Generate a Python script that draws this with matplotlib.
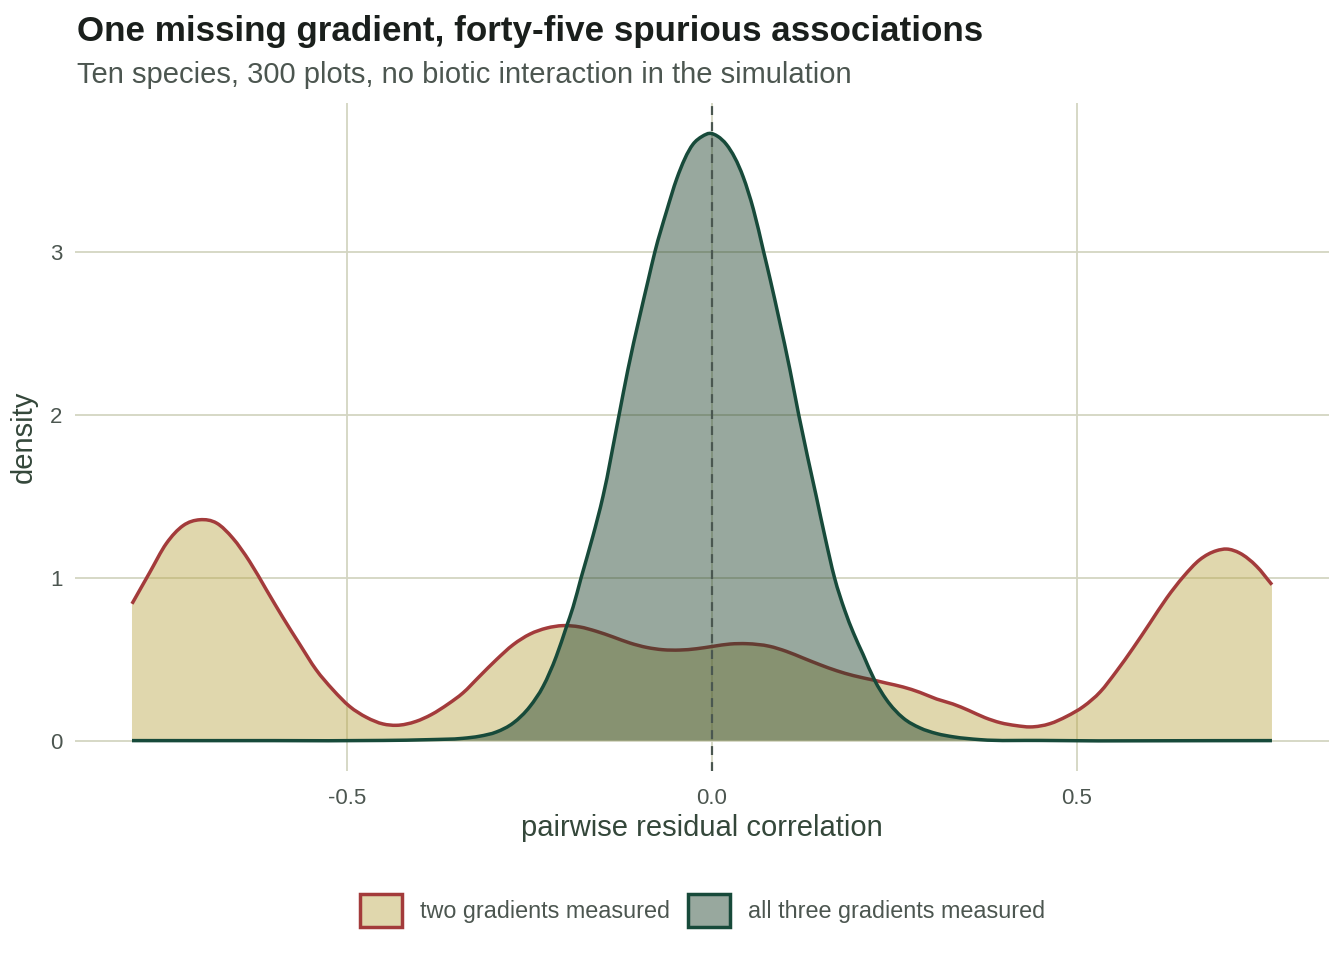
import matplotlib
matplotlib.use("Agg")
import matplotlib.pyplot as plt
import matplotlib.patches as mpatches
from matplotlib.path import Path
import numpy as np

# ── Style ─────────────────────────────────────────────────────────────────────
plt.rcParams.update({
    "font.family": ["Liberation Sans", "DejaVu Sans"],
    "axes.edgecolor": "none",
})

GRID = "#d3d5c2"
RED_LINE = "#a33b3b"
RED_FILL = "#bba749"
GREEN_LINE = "#174a3a"
GREEN_FILL = "#1b3e28"
TEXT_DARK = "#1a1f1c"
TEXT_MID = "#4c5650"
AXIS_TITLE = "#34473a"

# ── Data ────────────────────────────────────────────────────────────────────
two_x = [-0.794, -0.770, -0.747, -0.724, -0.701, -0.678, -0.656, -0.633, -0.610,
         -0.587, -0.564, -0.542, -0.519, -0.496, -0.473, -0.450, -0.432, -0.405,
         -0.384, -0.361, -0.341, -0.318, -0.295, -0.272, -0.249, -0.226, -0.204,
         -0.181, -0.158, -0.135, -0.112, -0.089, -0.067, -0.044, -0.021, 0.002,
         0.025, 0.048, 0.079, 0.102, 0.125, 0.148, 0.171, 0.194, 0.223, 0.239,
         0.262, 0.285, 0.308, 0.330, 0.352, 0.374, 0.395, 0.417, 0.436, 0.463,
         0.486, 0.509, 0.532, 0.554, 0.577, 0.600, 0.623, 0.646, 0.668, 0.691,
         0.705, 0.723, 0.746, 0.767]
two_y = [0.84, 1.03, 1.21, 1.32, 1.356, 1.335, 1.243, 1.10, 0.926,
         0.753, 0.589, 0.436, 0.313, 0.21, 0.143, 0.102, 0.094, 0.118,
         0.16, 0.225, 0.292, 0.395, 0.497, 0.589, 0.654, 0.691, 0.706,
         0.698, 0.671, 0.636, 0.599, 0.572, 0.558, 0.556, 0.564, 0.579,
         0.593, 0.595, 0.579, 0.548, 0.507, 0.466, 0.429, 0.399, 0.370, 0.353,
         0.329, 0.296, 0.255, 0.225, 0.185, 0.141, 0.11, 0.092, 0.084, 0.104,
         0.149, 0.21, 0.30, 0.425, 0.569, 0.722, 0.876, 1.008, 1.11, 1.166,
         1.176, 1.151, 1.07, 0.957]

three_x = [-0.794, -0.60, -0.45, -0.386, -0.341, -0.318, -0.295, -0.272, -0.249,
           -0.231, -0.213, -0.199, -0.190, -0.179, -0.163, -0.149, -0.127,
           -0.115, -0.099, -0.087, -0.078, -0.062, -0.048, -0.026, -0.013, -0.003,
           0.008, 0.020, 0.043, 0.057, 0.071, 0.080, 0.092, 0.107, 0.119,
           0.143, 0.155, 0.168, 0.182, 0.194, 0.207, 0.223, 0.239, 0.262, 0.285,
           0.308, 0.331, 0.367, 0.45, 0.767]
three_y = [0.0, 0.0, 0.001, 0.006, 0.014, 0.027, 0.053, 0.108, 0.21,
           0.333, 0.517, 0.70, 0.82, 1.0, 1.253, 1.50, 2.0,
           2.276, 2.60, 2.83, 3.0, 3.25, 3.45, 3.66, 3.71, 3.728,
           3.71, 3.66, 3.46, 3.26, 3.0, 2.83, 2.59, 2.276, 2.0,
           1.50, 1.25, 1.0, 0.80, 0.66, 0.53, 0.37, 0.252, 0.139, 0.078,
           0.043, 0.023, 0.006, 0.001, 0.0]

x_ticks = [-0.5, 0.0, 0.5]
x_labels = ["-0.5", "0.0", "0.5"]
y_ticks = [0, 1, 2, 3]
labels = ["two gradients measured", "all three gradients measured"]


def smooth_path(xs, ys, closed=False):
    """Bezier path through the read points (three-point tangents)."""
    x = np.asarray(xs, float)
    y = np.asarray(ys, float)
    h = np.diff(x)
    d = np.diff(y) / h
    m = np.zeros_like(y)
    m[0], m[-1] = d[0], d[-1]
    m[1:-1] = (h[1:] * d[:-1] + h[:-1] * d[1:]) / (h[:-1] + h[1:])
    if closed:
        verts = [(x[0], 0.0), (x[0], y[0])]
        codes = [Path.MOVETO, Path.LINETO]
    else:
        verts = [(x[0], y[0])]
        codes = [Path.MOVETO]
    for i in range(len(x) - 1):
        verts += [(x[i] + h[i] / 3, y[i] + m[i] * h[i] / 3),
                  (x[i + 1] - h[i] / 3, y[i + 1] - m[i + 1] * h[i] / 3),
                  (x[i + 1], y[i + 1])]
        codes += [Path.CURVE4] * 3
    if closed:
        verts += [(x[-1], 0.0), (x[0], 0.0)]
        codes += [Path.LINETO, Path.CLOSEPOLY]
    return Path(verts, codes)


# ── Figure ────────────────────────────────────────────────────────────────────
fig = plt.figure(figsize=(13.44, 9.6), dpi=100)
fig.patch.set_facecolor("white")
ax = fig.add_axes([0.0558, 0.1969, 0.9330, 0.6958])

for v in x_ticks:
    ax.axvline(v, color=GRID, lw=1.3, zorder=0)
for v in y_ticks:
    ax.axhline(v, color=GRID, lw=1.3, zorder=0)

ax.add_patch(mpatches.PathPatch(smooth_path(two_x, two_y, closed=True),
                                facecolor=RED_FILL, alpha=0.45, lw=0, zorder=1))
ax.add_patch(mpatches.PathPatch(smooth_path(two_x, two_y), facecolor="none",
                                edgecolor=RED_LINE, lw=2.5, zorder=2, capstyle="butt"))
ax.add_patch(mpatches.PathPatch(smooth_path(three_x, three_y, closed=True),
                                facecolor=GREEN_FILL, alpha=0.45, lw=0, zorder=3))
ax.add_patch(mpatches.PathPatch(smooth_path(three_x, three_y), facecolor="none",
                                edgecolor=GREEN_LINE, lw=2.5, zorder=4, capstyle="butt"))

ax.axvline(0, color="#4a5750", lw=1.6, ls=(0, (4, 3.2)), zorder=5)

xr = max(two_x) - min(two_x)
ax.set_xlim(min(two_x) - 0.05 * xr, max(two_x) + 0.05 * xr)
ax.set_ylim(-0.05 * max(three_y), 1.05 * max(three_y))

ax.set_xticks(x_ticks)
ax.set_xticklabels(x_labels)
ax.set_yticks(y_ticks)
ax.tick_params(axis="x", length=0, labelsize=16, labelcolor=TEXT_MID, pad=12)
ax.tick_params(axis="y", length=0, labelsize=16, labelcolor=TEXT_MID, pad=9)
ax.set_xlabel("pairwise residual correlation", fontsize=21, color=AXIS_TITLE, labelpad=4)
ax.set_ylabel("density", fontsize=21, color=AXIS_TITLE, labelpad=9)
ax.set_facecolor("white")

fig.text(0.0573, 0.957, "One missing gradient, forty-five spurious associations",
         fontsize=25.2, fontweight="bold", color=TEXT_DARK, va="baseline")
fig.text(0.0573, 0.914, "Ten species, 300 plots, no biotic interaction in the simulation",
         fontsize=21, color=TEXT_MID, va="baseline")

handles = [
    mpatches.Patch(facecolor="#e0d7ad", edgecolor=RED_LINE, lw=2.5, label=labels[0]),
    mpatches.Patch(facecolor="#98a89e", edgecolor=GREEN_LINE, lw=2.5, label=labels[1]),
]
leg = fig.legend(handles=handles, loc="center", bbox_to_anchor=(0.5227, 0.052), ncol=2,
                 frameon=False, fontsize=16.8, handlelength=1.8, handleheight=1.8,
                 handletextpad=0.75, columnspacing=0.8, labelcolor=TEXT_MID)

fig.savefig("out.png", dpi=100, facecolor="white")
